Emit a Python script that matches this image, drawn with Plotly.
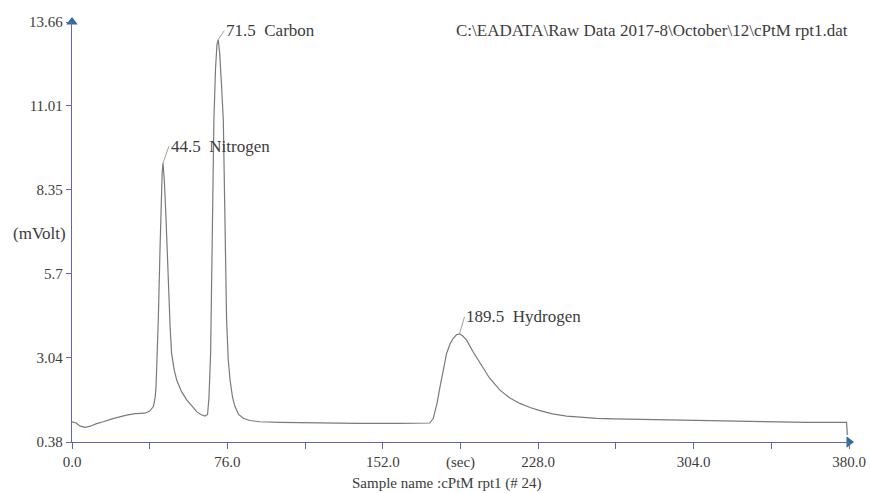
import plotly.graph_objects as go

# Chromatogram trace: retention time (sec) vs detector signal (mVolt)
time_sec = [0, 2, 4, 6.4, 9, 12, 15.3, 20, 26.7, 31, 35.7, 38, 39.8, 40.7, 41.1, 41.7,
            42.2, 43.0, 43.6, 44.1, 44.5, 45.2, 46.0, 47.1, 48.0, 48.7, 50, 51.2, 53.5,
            56.1, 58.5, 61, 63, 65, 66.3, 67.0, 67.8, 68.3, 68.8, 69.4, 70.2, 70.9, 71.5,
            72.2, 73.1, 74.0, 74.8, 75.6, 76.4, 77.3, 78.5, 79.7, 81.5, 83.8, 87, 91.9,
            101.7, 120, 140, 160, 175, 176.7, 178.5, 180, 181.6, 183.2, 185, 186.5, 188,
            189.5, 191, 193, 196, 199.5, 204, 209.3, 214, 219, 224, 228.9, 235, 241.9,
            249, 256.6, 265, 274.5, 290, 307, 323, 339.7, 360, 378.8, 379.2]
signal_mv = [1.02, 0.98, 0.88, 0.84, 0.88, 0.96, 1.02, 1.12, 1.23, 1.28, 1.29, 1.36, 1.50,
             1.80, 2.13, 3.20, 4.24, 6.36, 8.00, 8.90, 9.20, 8.60, 7.40, 5.29, 4.00, 3.19,
             2.65, 2.34, 1.98, 1.71, 1.52, 1.34, 1.25, 1.20, 1.25, 1.80, 3.19, 5.20, 7.40,
             10.56, 12.20, 12.95, 13.10, 12.70, 11.70, 10.56, 7.40, 4.24, 3.00, 2.34, 1.80,
             1.50, 1.25, 1.13, 1.06, 1.02, 1.00, 0.98, 0.97, 0.97, 0.98, 1.13, 1.60, 2.13,
             2.65, 3.18, 3.50, 3.66, 3.77, 3.80, 3.74, 3.60, 3.25, 2.87, 2.42, 2.02, 1.78,
             1.60, 1.47, 1.37, 1.27, 1.20, 1.16, 1.13, 1.11, 1.10, 1.07, 1.05, 1.03, 1.01,
             1.00, 1.00, 0.60]

# Identified peaks
peak_names = ["Nitrogen", "Carbon", "Hydrogen"]
peak_times = [44.5, 71.5, 189.5]
peak_heights = [9.20, 13.10, 3.80]
peak_label_offsets = [(6, -17), (6, -9), (5, -17)]

# Axis ticks
x_tick_vals = [0, 38, 76, 114, 152, 190, 228, 266, 304, 342, 380]
x_tick_text = ["0.0", "", "76.0", "", "152.0", "(sec)", "228.0", "", "304.0", "", "380.0"]
y_tick_vals = [0.38, 3.04, 5.7, 8.35, 11.01, 13.66]
y_tick_text = ["0.38", "3.04", "5.7", "8.35", "11.01", "13.66"]

file_path = "C:\\EADATA\\Raw Data 2017-8\\October\\12\\cPtM rpt1.dat"
sample_label = "Sample name :cPtM rpt1 (# 24)"
y_unit = "(mVolt)"

FONT = "Times New Roman, Liberation Serif, serif"
TEXT_COLOR = "#3c3c3c"
AXIS_COLOR = "#6464ae"
ARROW_COLOR = "#2f6b98"
FS_TICK = 15
FS_LABEL = 17

fig = go.Figure()

fig.add_trace(go.Scatter(
    x=time_sec, y=signal_mv, mode="lines",
    line=dict(color="#7a7a7a", width=1.2),
    hoverinfo="skip", showlegend=False,
))

# Arrow heads at the ends of both axes
fig.add_trace(go.Scatter(
    x=[x_tick_vals[-1], x_tick_vals[0]],
    y=[y_tick_vals[0], y_tick_vals[-1]],
    mode="markers",
    marker=dict(symbol=["triangle-right", "triangle-up"], size=10, color=ARROW_COLOR),
    cliponaxis=False, hoverinfo="skip", showlegend=False,
))

annotations = []
for name, t, h, (dx, dy) in zip(peak_names, peak_times, peak_heights, peak_label_offsets):
    annotations.append(dict(
        x=t, y=h, xref="x", yref="y",
        text=f"{t:.1f}\u00a0\u00a0{name}",
        showarrow=True, arrowhead=0, arrowwidth=0.8, arrowcolor="#888888",
        ax=dx, ay=dy, xanchor="left", yanchor="middle",
        font=dict(family=FONT, size=FS_LABEL, color=TEXT_COLOR),
    ))

annotations += [
    dict(x=0.746, y=0.979, xref="paper", yref="paper", text=file_path,
         showarrow=False, xanchor="center", yanchor="middle",
         font=dict(family=FONT, size=FS_LABEL, color=TEXT_COLOR)),
    dict(x=0.483, y=-0.098, xref="paper", yref="paper", text=sample_label,
         showarrow=False, xanchor="center", yanchor="middle",
         font=dict(family=FONT, size=FS_TICK, color=TEXT_COLOR)),
    dict(x=-0.079, y=0.497, xref="paper", yref="paper", text=y_unit,
         showarrow=False, xanchor="left", yanchor="middle",
         font=dict(family=FONT, size=FS_LABEL, color=TEXT_COLOR)),
]

fig.update_layout(
    template="none",
    width=870, height=493,
    margin=dict(l=72, r=21, t=22, b=51),
    paper_bgcolor="white", plot_bgcolor="white",
    font=dict(family=FONT, size=FS_TICK, color=TEXT_COLOR),
    annotations=annotations,
    xaxis=dict(
        range=[0, 380], tickmode="array", tickvals=x_tick_vals, ticktext=x_tick_text,
        automargin=False,
        showgrid=False, zeroline=False, showline=True, linecolor=AXIS_COLOR, linewidth=1.3,
        ticks="outside", ticklen=6, tickcolor=AXIS_COLOR, tickwidth=1,
        tickfont=dict(family=FONT, size=FS_TICK, color=TEXT_COLOR),
    ),
    yaxis=dict(
        range=[0.38, 13.66], tickmode="array", tickvals=y_tick_vals, ticktext=y_tick_text,
        automargin=False,
        showgrid=False, zeroline=False, showline=True, linecolor=AXIS_COLOR, linewidth=1.3,
        ticks="outside", ticklen=5, tickcolor=AXIS_COLOR, tickwidth=1,
        tickfont=dict(family=FONT, size=FS_TICK, color=TEXT_COLOR),
    ),
)

fig.write_html("out.html")
